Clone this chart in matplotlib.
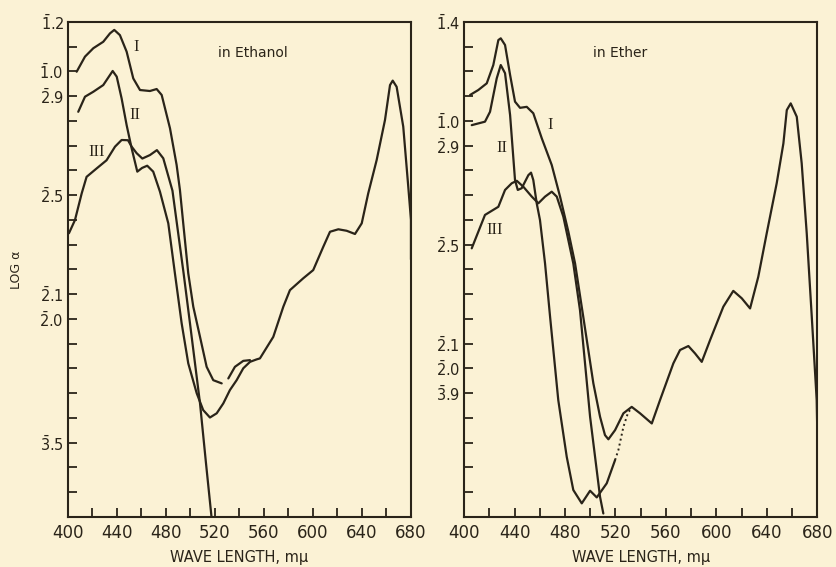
import numpy as np
import matplotlib
matplotlib.use("Agg")
import matplotlib.pyplot as plt

# ---- data (wavelength in m-mu, log alpha) ----
# in ethanol
eth_I_wl = [407.1, 413.9, 420.7, 428.8, 434.3, 437.8, 442.4, 447.9, 453.3, 458.8, 466.9, 472.4,
            476.5, 483.3, 488.7, 491.4, 494.1, 498.2, 502.3, 507.8, 513.2, 518.6, 525.5]
eth_I_val = [-1.001, -0.940, -0.906, -0.880, -0.846, -0.832, -0.853, -0.920, -1.028, -1.075, -1.079, -1.071,
             -1.095, -1.230, -1.378, -1.479, -1.614, -1.816, -1.951, -2.073, -2.194, -2.248, -2.261]

eth_II_wl = [408.4, 413.9, 420.7, 428.8, 436.5, 439.8, 443.8, 447.9, 452.0, 456.6, 460.5, 464.7,
             469.6, 475.1, 481.9, 487.3, 492.8, 498.2, 505.1, 510.4, 515.9, 521.4, 526.8, 532.2,
             537.7, 543.1, 548.6, 554.0, 556.7, 567.6, 575.8, 581.2, 592.1, 600.2, 608.4, 613.9,
             620.7, 627.5, 634.3, 639.8, 645.1, 652.0, 658.8, 662.9, 665.1, 668.3, 673.7, 677.8,
             680.0, 680.0]
eth_II_val = [-1.163, -1.102, -1.082, -1.055, -0.998, -1.021, -1.109, -1.217, -1.311, -1.405, -1.390, -1.381,
              -1.405, -1.486, -1.614, -1.816, -2.018, -2.180, -2.301, -2.369, -2.399, -2.382, -2.342, -2.288,
              -2.248, -2.200, -2.174, -2.164, -2.160, -2.073, -1.951, -1.884, -1.836, -1.803, -1.709, -1.648,
              -1.638, -1.644, -1.657, -1.614, -1.493, -1.358, -1.196, -1.055, -1.037, -1.062, -1.223, -1.466,
              -1.600, -1.760]

eth_III_wl = [400.8, 405.7, 411.2, 415.2, 423.4, 431.5, 438.4, 443.8, 449.0, 452.0, 456.0, 460.7,
              466.9, 472.6, 477.8, 485.3, 494.4, 499.6, 507.8, 512.7, 517.3]
eth_III_val = [-1.654, -1.601, -1.493, -1.426, -1.392, -1.359, -1.304, -1.277, -1.278, -1.304, -1.330, -1.352,
               -1.338, -1.318, -1.351, -1.482, -1.816, -2.018, -2.342, -2.585, -2.807]

eth_join_wl = [530.9, 536.3, 543.1, 548.6]
eth_join_val = [-2.241, -2.194, -2.170, -2.167]

# in ether
eto_I_wl = [404.8, 411.3, 418.0, 423.2, 427.2, 429.1, 432.5, 436.5, 440.4, 444.4, 449.7, 454.9,
            461.6, 469.5, 476.1, 482.7, 488.0, 494.5, 502.5, 507.8, 511.7, 514.4, 519.7, 526.3,
            532.9, 539.5, 548.8, 555.3, 565.9, 571.2, 577.8, 583.1, 588.4, 595.0, 605.5, 613.4,
            620.1, 626.7, 633.2, 639.9, 647.8, 653.1, 655.8, 658.9, 663.7, 667.6, 671.6, 675.6,
            679.5, 680.0]
eto_I_val = [-0.895, -0.875, -0.848, -0.774, -0.673, -0.666, -0.693, -0.814, -0.922, -0.947, -0.943, -0.969,
             -1.070, -1.178, -1.306, -1.448, -1.576, -1.792, -2.061, -2.196, -2.270, -2.287, -2.250, -2.182,
             -2.156, -2.182, -2.223, -2.129, -1.980, -1.926, -1.910, -1.940, -1.974, -1.886, -1.751, -1.687,
             -1.717, -1.758, -1.630, -1.454, -1.252, -1.091, -0.956, -0.929, -0.983, -1.171, -1.454, -1.792,
             -2.129, -2.263]

eto_II_wl = [406.1, 416.6, 420.6, 425.9, 429.1, 432.5, 436.5, 440.4, 442.6, 445.7, 451.0, 453.1,
             454.9, 457.6, 460.2, 464.2, 468.2, 474.7, 481.4, 486.6, 493.3, 499.9, 505.2, 513.1, 519.7]
eto_II_val = [-1.017, -1.003, -0.963, -0.828, -0.774, -0.807, -0.976, -1.239, -1.279, -1.272, -1.219, -1.209,
              -1.239, -1.333, -1.401, -1.576, -1.792, -2.129, -2.358, -2.492, -2.546, -2.495, -2.522, -2.465, -2.371]

eto_dot_wl = [519.7, 522.3, 526.3, 530.2, 532.4]
eto_dot_val = [-2.371, -2.331, -2.237, -2.176, -2.166]

eto_III_wl = [406.1, 416.6, 427.2, 432.5, 437.8, 441.8, 447.0, 453.7, 458.9, 464.2, 469.5, 473.5,
              478.7, 486.6, 491.9, 499.9, 507.8, 510.4]
eto_III_val = [-1.515, -1.380, -1.347, -1.279, -1.252, -1.242, -1.266, -1.306, -1.333, -1.306, -1.286, -1.306,
               -1.387, -1.576, -1.765, -2.196, -2.520, -2.587]

# y tick labels (characteristic with bar notation)
eth_yticks = [-0.8, -1.0, -1.1, -1.5, -1.9, -2.0, -2.5]
eth_ylabels = [r"$\bar{1}$.2", r"$\bar{1}$.0", r"$\bar{2}$.9", r"$\bar{2}$.5",
               r"$\bar{2}$.1", r"$\bar{2}$.0", r"$\bar{3}$.5"]
eto_yticks = [-0.6, -1.0, -1.1, -1.5, -1.9, -2.0, -2.1]
eto_ylabels = [r"$\bar{1}$.4", r"$\bar{1}$.0", r"$\bar{2}$.9", r"$\bar{2}$.5",
               r"$\bar{2}$.1", r"$\bar{2}$.0", r"$\bar{3}$.9"]

BG = "#fbf2d5"
INK = "#2a2419"

plt.rcParams["font.family"] = ["DejaVu Sans"]
plt.rcParams["mathtext.fontset"] = "dejavusans"
plt.rcParams["mathtext.default"] = "regular"

fig = plt.figure(figsize=(8.37, 5.67), dpi=100, facecolor=BG)
ax1 = fig.add_axes([0.0812, 0.0887, 0.4098, 0.8725])
ax2 = fig.add_axes([0.5544, 0.0887, 0.4221, 0.8725])


def style(ax, ymin, ymax, yticks, ylabels):
    ax.set_facecolor(BG)
    ax.set_xlim(400, 680)
    ax.set_ylim(ymin, ymax)
    ax.set_xticks(np.arange(400, 681, 40))
    ax.set_xticks(np.arange(400, 681, 20), minor=True)
    ax.set_yticks(yticks)
    ax.set_yticklabels(ylabels)
    ax.set_yticks(np.arange(ymin, ymax + 0.01, 0.1), minor=True)
    ax.tick_params(which="both", direction="in", length=6.5, width=1.3, color=INK,
                   labelcolor=INK, top=False, right=False)
    ax.tick_params(axis="x", labelsize=12, pad=5)
    ax.tick_params(axis="y", labelsize=10.5, pad=3)
    for s in ax.spines.values():
        s.set_color(INK)
        s.set_linewidth(1.5)
    ax.set_xlabel("WAVE LENGTH, m\u03bc", fontsize=10.5, color=INK, labelpad=6)


kw = dict(color=INK, lw=1.6, solid_capstyle="round", solid_joinstyle="round")
serif = dict(family="Liberation Serif", fontsize=12, color=INK, ha="center", va="center")

style(ax1, -2.8, -0.8, eth_yticks, eth_ylabels)
ax1.plot(eth_I_wl, eth_I_val, **kw)
ax1.plot(eth_II_wl, eth_II_val, **kw)
ax1.plot(eth_III_wl, eth_III_val, **kw)
ax1.plot(eth_join_wl, eth_join_val, **kw)
ax1.text(456, -0.90, "I", **serif)
ax1.text(455, -1.176, "II", **serif)
ax1.text(423.4, -1.324, "III", **serif)
ax1.text(551, -0.927, "in Ethanol", fontsize=10, color=INK, ha="center", va="center")
ax1.set_ylabel("LOG \u03b1", fontsize=9, color=INK, labelpad=12)

style(ax2, -2.6, -0.6, eto_yticks, eto_ylabels)
ax2.plot(eto_I_wl, eto_I_val, **kw)
ax2.plot(eto_II_wl, eto_II_val, **kw)
ax2.plot(eto_III_wl, eto_III_val, **kw)
ax2.plot(eto_dot_wl, eto_dot_val, color=INK, lw=1.4, linestyle=(0, (1, 1.6)))
ax2.text(468.2, -1.017, "I", **serif)
ax2.text(429.9, -1.111, "II", **serif)
ax2.text(424.6, -1.441, "III", **serif)
ax2.text(523.6, -0.727, "in Ether", fontsize=10, color=INK, ha="center", va="center")

fig.savefig("out.png", dpi=100, facecolor=BG)
